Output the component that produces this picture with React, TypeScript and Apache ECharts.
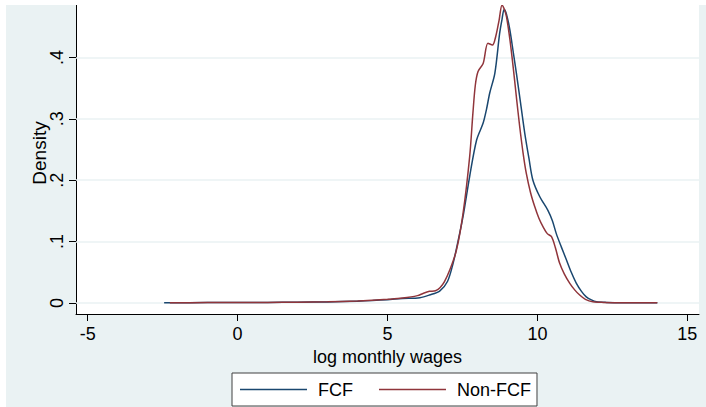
import React, { useEffect, useRef } from "react";
import * as echarts from "echarts";

const xTicks = [-5, 0, 5, 10, 15];
const yTicks = [0, 0.1, 0.2, 0.3, 0.4];

const fcfX = [-2.45, -1, 0, 1, 2, 3, 4, 4.5, 5, 5.5, 6.08, 6.4, 6.74, 7.0, 7.19, 7.35, 7.52, 7.74, 7.97, 8.19, 8.3, 8.41, 8.58, 8.74, 8.82, 8.89, 8.97, 9.08, 9.19, 9.3, 9.44, 9.58, 9.72, 9.85, 10.08, 10.35, 10.5, 10.63, 10.8, 10.97, 11.13, 11.3, 11.47, 11.63, 11.8, 11.97, 12.3, 13, 14];
const fcfY = [0.0005, 0.0007, 0.0008, 0.001, 0.0013, 0.0018, 0.003, 0.004, 0.0055, 0.0072, 0.0087, 0.013, 0.0195, 0.035, 0.065, 0.1, 0.141, 0.206, 0.265, 0.293, 0.315, 0.342, 0.374, 0.439, 0.462, 0.478, 0.47, 0.445, 0.41, 0.374, 0.325, 0.276, 0.235, 0.2, 0.173, 0.151, 0.134, 0.113, 0.091, 0.07, 0.05, 0.032, 0.019, 0.01, 0.005, 0.002, 0.001, 0.0005, 0.0004];

const nonX = [-2.26, -1, 0, 1, 2, 3, 4, 4.5, 5, 5.5, 6.0, 6.2, 6.4, 6.6, 6.75, 6.9, 7.08, 7.3, 7.52, 7.74, 7.85, 7.93, 8.02, 8.19, 8.35, 8.5, 8.61, 8.72, 8.82, 8.9, 8.97, 9.08, 9.19, 9.3, 9.41, 9.52, 9.63, 9.77, 9.91, 10.05, 10.19, 10.33, 10.47, 10.6, 10.74, 10.9, 11.08, 11.25, 11.41, 11.6, 11.85, 12.2, 13, 14];
const nonY = [0.0005, 0.0007, 0.0008, 0.001, 0.0014, 0.002, 0.0033, 0.0045, 0.006, 0.008, 0.012, 0.016, 0.019, 0.02, 0.025, 0.035, 0.054, 0.086, 0.146, 0.238, 0.31, 0.355, 0.377, 0.39, 0.423, 0.42, 0.434, 0.46, 0.485, 0.478, 0.466, 0.43, 0.385, 0.335, 0.287, 0.245, 0.211, 0.18, 0.157, 0.138, 0.124, 0.113, 0.108, 0.09, 0.065, 0.047, 0.032, 0.021, 0.013, 0.006, 0.002, 0.001, 0.0005, 0.0004];

const seriesNames = ["FCF", "Non-FCF"];
const FONT = "'Liberation Sans', Arial, sans-serif";

export default function App() {
  const ref = useRef<HTMLDivElement>(null);
  useEffect(() => {
    if (!ref.current) return;
    const chart = echarts.init(ref.current, undefined, { renderer: "svg" });
    const zip = (xs: number[], ys: number[]) => xs.map((x, i) => [x, ys[i]]);
    chart.setOption({
      animation: false,
      backgroundColor: "#EAF2F3",
      textStyle: { fontFamily: FONT },
      grid: {
        left: 70,
        top: 0,
        right: 7,
        bottom: 93,
        show: true,
        backgroundColor: "#ffffff",
        borderWidth: 0,
      },
      xAxis: {
        type: "value",
        min: -5.39,
        max: 15.39,
        axisLine: { show: true, onZero: false, lineStyle: { color: "#000", width: 1 } },
        axisTick: { show: true, length: 7, customValues: xTicks, lineStyle: { color: "#000" } },
        axisLabel: { customValues: xTicks, fontSize: 18, color: "#000", margin: 11, fontFamily: FONT },
        splitLine: { show: false },
      },
      yAxis: {
        type: "value",
        min: -0.0179,
        max: 0.4853,
        axisLine: { show: true, onZero: false, lineStyle: { color: "#000", width: 1 } },
        axisTick: { show: true, length: 7, customValues: yTicks, lineStyle: { color: "#000" } },
        axisLabel: {
          customValues: yTicks,
          rotate: 90,
          fontSize: 18,
          color: "#000",
          margin: 10,
          fontFamily: FONT,
          formatter: (v: number) => (v === 0 ? "0" : v.toFixed(1).replace(/^0/, "")),
        },
        splitLine: { show: false },
      },
      legend: {
        data: seriesNames.map((n) => ({ name: n, icon: "rect" })),
        left: 226,
        top: 368,
        orient: "horizontal",
        backgroundColor: "#ffffff",
        borderColor: "#404040",
        borderWidth: 1,
        borderRadius: 0,
        padding: [6, 6, 6, 8],
        itemWidth: 67,
        itemHeight: 1.5,
        itemGap: 26,
        textStyle: { fontSize: 18, color: "#000", fontFamily: FONT, lineHeight: 21, padding: [0, 0, 0, 6] },
      },
      graphic: [
        {
          type: "text",
          x: 33,
          y: 148,
          rotation: Math.PI / 2,
          style: { text: "Density", fontSize: 19, fill: "#000", fontFamily: FONT, align: "center", verticalAlign: "middle" },
        },
        {
          type: "text",
          x: 381.5,
          y: 352,
          style: { text: "log monthly wages", fontSize: 18, fill: "#000", fontFamily: FONT, align: "center", verticalAlign: "middle" },
        },
      ],
      series: [
        {
          type: "line",
          name: "_grid",
          data: [],
          silent: true,
          z: 1,
          markLine: {
            silent: true,
            z: 1,
            symbol: "none",
            label: { show: false },
            lineStyle: { color: "#EAF2F3", width: 1.5, type: "solid" },
            data: yTicks.map((v) => ({ yAxis: v })),
          },
        },
        {
          type: "line",
          name: seriesNames[0],
          data: zip(fcfX, fcfY),
          showSymbol: false,
          symbol: "none",
          smooth: 0.3,
          z: 3,
          lineStyle: { color: "#1a476f", width: 1.5 },
          itemStyle: { color: "#1a476f" },
        },
        {
          type: "line",
          name: seriesNames[1],
          data: zip(nonX, nonY),
          showSymbol: false,
          symbol: "none",
          smooth: 0.3,
          z: 4,
          lineStyle: { color: "#90353b", width: 1.5 },
          itemStyle: { color: "#90353b" },
        },
      ],
    });
    return () => chart.dispose();
  }, []);
  return (
    <div style={{ position: "fixed", left: 0, top: 0, width: 706, height: 407, background: "#ffffff" }}>
      <div ref={ref} style={{ position: "absolute", left: 6, top: 5, width: 700, height: 402 }} />
    </div>
  );
}
